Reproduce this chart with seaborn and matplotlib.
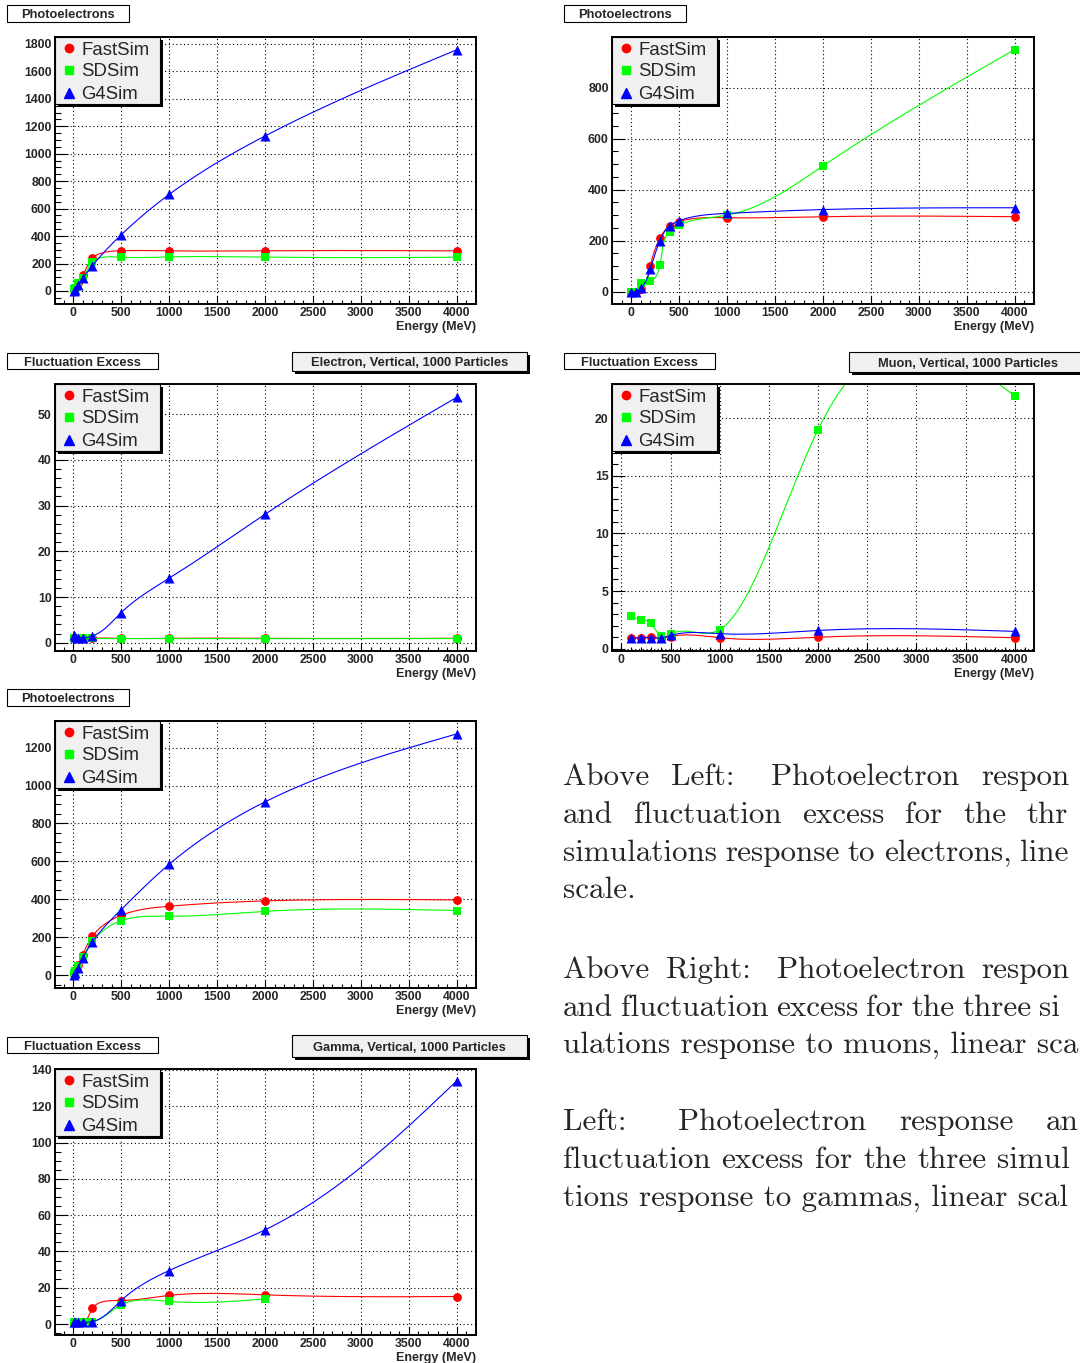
import numpy as np
import matplotlib
matplotlib.use("Agg")
import matplotlib.pyplot as plt
from matplotlib.patches import Rectangle
from matplotlib.lines import Line2D
from matplotlib.ticker import MultipleLocator
import seaborn as sns

# ---------------- data ----------------
series_names = ["FastSim", "SDSim", "G4Sim"]
energy_ticks = [0, 500, 1000, 1500, 2000, 2500, 3000, 3500, 4000]

# electrons
electron_energy = [10, 20, 50, 100, 200, 500, 1000, 2000, 4000]
electron_pe_fastsim = [10, 21, 57, 114, 238, 293, 292, 293, 292]
electron_pe_sdsim = [12, 23, 55, 96, 212, 246, 248, 246, 246]
electron_pe_g4sim = [2, 9, 40, 92, 184, 409, 703, 1129, 1757]

electron_fe_fastsim = [1.02, 0.98, 1.0, 0.97, 1.01, 0.96, 0.99, 0.97, 0.98]
electron_fe_sdsim = [1.05, 1.0, 0.98, 0.99, 0.95, 0.92, 0.93, 0.9, 0.92]
electron_fe_g4sim = [1.6, 1.2, 1.1, 1.1, 1.5, 6.6, 14.1, 28.1, 53.7]

# muons
muon_pe_energy = [0, 50, 100, 200, 300, 400, 500, 1000, 2000, 4000]
muon_pe_fastsim = [0, 0, 10, 102, 209, 258, 275, 290, 294, 294]
muon_pe_sdsim = [0, 0, 33, 43, 104, 236, 261, 300, 493, 949]
muon_pe_g4sim = [0, 0, 13, 89, 200, 258, 278, 307, 322, 329]

muon_fe_energy = [100, 200, 300, 400, 500, 1000, 2000, 4000]
muon_fe_fastsim = [0.95, 0.95, 1.0, 0.9, 1.05, 0.95, 1.0, 0.95]
muon_fe_sdsim = [2.8, 2.5, 2.2, 1.07, 1.25, 1.65, 19.0, 21.9]
muon_fe_g4sim = [0.92, 0.95, 0.95, 0.93, 1.15, 1.3, 1.58, 1.5]

# gammas
gamma_energy = [10, 20, 50, 100, 200, 500, 1000, 2000, 4000]
gamma_pe_fastsim = [9, 20, 52, 109, 206, 316, 364, 392, 397]
gamma_pe_sdsim = [11, 22, 50, 97, 179, 288, 311, 337, 341]
gamma_pe_g4sim = [2, 10, 40, 91, 176, 346, 585, 914, 1272]

gamma_fe_sd_energy = [10, 20, 50, 100, 200, 500, 1000, 2000]
gamma_fe_fastsim = [1.1, 1.0, 1.0, 1.0, 8.6, 13.0, 15.8, 16.1, 15.2]
gamma_fe_sdsim = [1.3, 1.2, 1.2, 1.1, 1.3, 10.6, 12.5, 13.9]
gamma_fe_g4sim = [1.3, 1.1, 1.0, 1.0, 1.4, 13.0, 29.5, 51.9, 134.0]

# caption lines: (text, justified)
caption_paragraphs = [
    [("Above Left:  Photoelectron response", True),
     ("and fluctuation excess for the three", True),
     ("simulations response to electrons, linear", True),
     ("scale.", False)],
    [("Above Right:  Photoelectron response", True),
     ("and fluctuation excess for the three sim-", True),
     ("ulations response to muons, linear scale.", False)],
    [("Left:  Photoelectron response and", True),
     ("fluctuation excess for the three simula-", True),
     ("tions response to gammas, linear scale.", False)],
]

# ---------------- style ----------------
W, H, DPI = 1080, 1363, 100
COLORS = ["#ff0000", "#00ff00", "#0000ff"]
MARKERS = ["o", "s", "^"]
SIZES = [40, 40, 52]

sns.set_style("white")
plt.rcParams["font.family"] = ["Liberation Sans", "DejaVu Sans"]

fig = plt.figure(figsize=(W / DPI, H / DPI), dpi=DPI)
fig.patch.set_facecolor("white")


def fx(x):
    return x / W


def fy(y):
    return 1.0 - y / H


def natural_spline(t, v, tt):
    k = len(t)
    h = np.diff(t)
    A = np.zeros((k, k))
    b = np.zeros(k)
    A[0, 0] = A[-1, -1] = 1.0
    for i in range(1, k - 1):
        A[i, i - 1] = h[i - 1]
        A[i, i] = 2 * (h[i - 1] + h[i])
        A[i, i + 1] = h[i]
        b[i] = 6 * ((v[i + 1] - v[i]) / h[i] - (v[i] - v[i - 1]) / h[i - 1])
    m = np.linalg.solve(A, b)
    j = np.clip(np.searchsorted(t, tt, side="right") - 1, 0, k - 2)
    hj = h[j]
    t0 = t[j + 1] - tt
    t1 = tt - t[j]
    return (m[j] * t0 ** 3 + m[j + 1] * t1 ** 3) / (6 * hj) \
        + (v[j] / hj - m[j] * hj / 6) * t0 + (v[j + 1] / hj - m[j + 1] * hj / 6) * t1


def smooth_curve(x, y, sx, sy, chord=True, per_seg=60):
    """Cubic spline through the points.

    chord=True: parametric spline over screen-pixel chord length;
    chord=False: ordinary spline y(x).
    """
    px = np.asarray(x, float) * sx
    py = np.asarray(y, float) * sy
    if chord:
        t = np.concatenate([[0.0], np.cumsum(np.hypot(np.diff(px), np.diff(py)))])
    else:
        t = px
    tt = np.unique(np.concatenate([np.linspace(t[i], t[i + 1], per_seg)
                                   for i in range(len(t) - 1)]))
    return natural_spline(t, px, tt) / sx, natural_spline(t, py, tt) / sy


def add_rect(x0, y0, x1, y1, face, edge=None, lw=0.0, z=10):
    r = Rectangle((fx(x0), fy(y1)), (x1 - x0) / W, (y1 - y0) / H,
                  transform=fig.transFigure, facecolor=face,
                  edgecolor=edge if edge else face, linewidth=lw, zorder=z)
    fig.add_artist(r)


def title_box(x0, y0, x1, y1, text, shaded=False):
    if shaded:
        add_rect(x0 + 3, y0 + 3, x1 + 3, y1 + 3, "black", z=10)
        add_rect(x0, y0, x1, y1, "#f0f0f0", "black", 0.8, z=11)
    else:
        add_rect(x0, y0, x1, y1, "white", "black", 0.8, z=11)
    fig.text(fx((x0 + x1) / 2), fy((y0 + y1) / 2 + 4.6), text, ha="center",
             va="baseline", fontsize=9.3, fontweight="bold", zorder=12)


def legend_box(L, T):
    add_rect(L + 3, T + 3, L + 108, T + 70, "black", z=10)
    add_rect(L, T, L + 105, T + 67, "#f0f0f0", "black", 0.8, z=11)
    rows = [17.6, 39.3, 62.0]
    for name, c, mk, r in zip(series_names, COLORS, MARKERS, rows):
        ms = 6.0 if mk != "^" else 6.6
        fig.add_artist(Line2D([fx(L + 13.5)], [fy(T + r - 6.2)], marker=mk, ms=ms,
                              color=c, mec=c, lw=0, transform=fig.transFigure, zorder=12))
        fig.text(fx(L + 26.5), fy(T + r), name, ha="left", va="baseline",
                 fontsize=13.4, zorder=12)


def panel(frame, xlim, ylim, yticks, yminor, series, chord=True):
    L, T, R, B = frame
    ax = fig.add_axes([fx(L), fy(B), (R - L) / W, (B - T) / H])
    ax.set_facecolor("white")
    sx = (R - L) / (xlim[1] - xlim[0])
    sy = (B - T) / (ylim[1] - ylim[0])
    z = 2.0
    for (xv, yv), c, mk, s in zip(series, COLORS, MARKERS, SIZES):
        xs, ys = smooth_curve(xv, yv, sx, sy, chord=chord)
        sns.lineplot(x=xs, y=ys, ax=ax, color=c, linewidth=0.8,
                     estimator=None, sort=False, zorder=z)
        sns.scatterplot(x=xv, y=yv, ax=ax, marker=mk, s=s, color=c,
                        edgecolor=c, linewidth=0, zorder=z + 0.1)
        z += 0.2
    ax.set_xticks(energy_ticks, [str(v) for v in energy_ticks],
                  fontweight="bold", fontsize=8.8)
    ax.set_yticks(yticks, [f"{v:g}" for v in yticks],
                  fontweight="bold", fontsize=8.8)
    ax.set_xlim(*xlim)
    ax.set_ylim(*ylim)
    ax.xaxis.set_minor_locator(MultipleLocator(100))
    ax.yaxis.set_minor_locator(MultipleLocator(yminor))
    ax.set_xlabel("")
    ax.set_ylabel("")
    ax.grid(True, which="major", color="black", linestyle=(0, (1, 2.4)), linewidth=0.8)
    ax.set_axisbelow(True)
    ax.tick_params(which="both", direction="in", top=False, right=False,
                   color="black", width=0.8, bottom=True, left=True)
    ax.tick_params(axis="x", which="major", length=5.8, pad=2.4)
    ax.tick_params(axis="x", which="minor", length=2.9)
    ax.tick_params(axis="y", which="major", length=9.0, pad=2.4)
    ax.tick_params(axis="y", which="minor", length=4.5)
    for sp in ax.spines.values():
        sp.set_color("black")
        sp.set_linewidth(1.4)
        sp.set_zorder(5)
    fig.text(fx(R), fy(B + 26), "Energy (MeV)", ha="right", va="baseline",
             fontsize=9.0, fontweight="bold")
    legend_box(L, T)
    return ax


# top-left: electron photoelectrons
panel((55, 37, 476, 304), (-190, 4200), (-95, 1850),
      [0, 200, 400, 600, 800, 1000, 1200, 1400, 1600, 1800], 50,
      [(electron_energy, electron_pe_fastsim),
       (electron_energy, electron_pe_sdsim),
       (electron_energy, electron_pe_g4sim)])
title_box(7, 5, 129, 22, "Photoelectrons")

# top-right: muon photoelectrons
panel((612, 37, 1034, 304), (-200, 4200), (-48, 998),
      [0, 200, 400, 600, 800], 50,
      [(muon_pe_energy, muon_pe_fastsim),
       (muon_pe_energy, muon_pe_sdsim),
       (muon_pe_energy, muon_pe_g4sim)])
title_box(564, 5, 686, 22, "Photoelectrons")

# middle-left: electron fluctuation excess
panel((55, 384, 476, 651), (-190, 4200), (-1.8, 56.6),
      [0, 10, 20, 30, 40, 50], 2,
      [(electron_energy, electron_fe_fastsim),
       (electron_energy, electron_fe_sdsim),
       (electron_energy, electron_fe_g4sim)])
title_box(7, 353, 158, 369, "Fluctuation Excess")
title_box(292, 352, 527, 371, "Electron, Vertical, 1000 Particles", shaded=True)

# middle-right: muon fluctuation excess (spline in energy, overshoots the frame)
panel((612, 384, 1034, 651), (-95, 4195), (-0.2, 22.95),
      [0, 5, 10, 15, 20], 1,
      [(muon_fe_energy, muon_fe_fastsim),
       (muon_fe_energy, muon_fe_sdsim),
       (muon_fe_energy, muon_fe_g4sim)], chord=False)
title_box(564, 353, 715, 369, "Fluctuation Excess")
title_box(849, 352, 1086, 372, "Muon, Vertical, 1000 Particles", shaded=True)

# lower-left: gamma photoelectrons
panel((55, 721, 476, 988), (-190, 4200), (-67, 1340),
      [0, 200, 400, 600, 800, 1000, 1200], 50,
      [(gamma_energy, gamma_pe_fastsim),
       (gamma_energy, gamma_pe_sdsim),
       (gamma_energy, gamma_pe_g4sim)])
title_box(7, 689, 129, 706, "Photoelectrons")

# bottom-left: gamma fluctuation excess
panel((55, 1069, 476, 1335), (-190, 4200), (-6, 140.5),
      [0, 20, 40, 60, 80, 100, 120, 140], 5,
      [(gamma_energy, gamma_fe_fastsim),
       (gamma_fe_sd_energy, gamma_fe_sdsim),
       (gamma_energy, gamma_fe_g4sim)])
title_box(7, 1037, 158, 1053, "Fluctuation Excess")
title_box(292, 1035, 527, 1057, "Gamma, Vertical, 1000 Particles", shaded=True)

# ---------------- caption text ----------------
CAP_FS = 22.4
X0, RIGHT = 562.8, 1096
renderer = fig.canvas.get_renderer()
baselines = [[785, 823.3, 860.7, 898], [978, 1016, 1053.3], [1130, 1168, 1206]]


def right_edge(t):
    return t.get_window_extent(renderer).x1


for para, ys in zip(caption_paragraphs, baselines):
    for (line, justify), yb in zip(para, ys):
        if justify:
            words = line.split()
        else:
            words = [line]
        texts = [fig.text(fx(X0), fy(yb), w, family="cmr10", fontsize=CAP_FS,
                          va="baseline") for w in words]
        if justify:
            widths = [t.get_window_extent(renderer).width for t in texts]
            weights = [1.6 if w.endswith(":") else 1.0 for w in words[:-1]]
            unit = (RIGHT - X0 - sum(widths)) / sum(weights)
            x = X0
            for t, w, k in zip(texts, widths, weights + [0]):
                t.set_x(fx(x))
                x += w + unit * k
        # the column runs past the page edge: keep only the glyphs that fit
        for t in texts:
            s = t.get_text()
            while s and right_edge(t) > W - 1:
                s = s[:-1]
                t.set_text(s)

fig.savefig("out.png", dpi=DPI, facecolor="white")
